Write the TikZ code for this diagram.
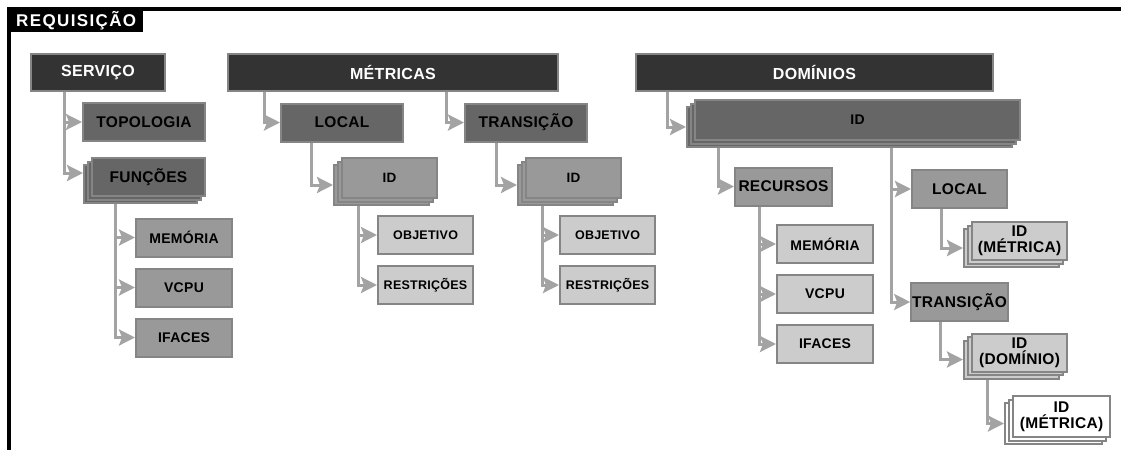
\documentclass[tikz,border=0pt]{standalone}
\usepackage{fontspec}
\newfontfamily\lblfont{Liberation Sans}[LetterSpace=2]
\newfontfamily\ttlfont{Liberation Sans}[LetterSpace=8]
\usetikzlibrary{arrows.meta, positioning, calc}
\definecolor{boxdark}{HTML}{333333}
\definecolor{boxmid}{HTML}{666666}
\definecolor{boxlight}{HTML}{999999}
\definecolor{boxpale}{HTML}{CCCCCC}
\definecolor{edgegray}{HTML}{858585}
\definecolor{linkgray}{HTML}{A3A3A3}

\newcommand\fsz[1]{\lblfont\bfseries\fontsize{#1}{#1}\selectfont}
% three stacked copies, the front one carries the label
\newcommand\stackbox[4]{%
  \node[#1] (#2c) at ($#3+(-8,7)$) {};
  \node[#1] (#2b) at ($#3+(-4,3.5)$) {};
  \node[#1] (#2) at #3 {#4};}

\begin{document}
\begin{tikzpicture}[
  x=1pt, y=-1pt,
  box/.style={
    draw=edgegray, line width=2pt, fill=#1, minimum height=38pt,
    inner sep=1pt, font=\fsz{15.5}, align=center
  },
  topbox/.style={box=boxdark, text=white, font=\fsz{16}, minimum height=37pt},
  leaf/.style={box=#1, minimum width=96pt, font=\fsz{14}},
  minor/.style={box=#1, minimum width=95pt, font=\fsz{12.5}},
  twoline/.style={box=#1, minimum width=95pt,
    font=\lblfont\bfseries\fontsize{15.5}{16}\selectfont},
  arr/.style={-{Stealth[length=16pt, width=16pt, inset=3pt]},
    line width=3pt, linkgray},
]
\useasboundingbox (0,0) rectangle (1121,450);

% Frame and title
\draw[line width=3.5pt] (9,450) -- (9,9) -- (1121,9);
\node[anchor=north west, fill=black, text=white, minimum width=134pt,
      minimum height=23pt, inner sep=0pt,
      font=\ttlfont\bfseries\fontsize{17}{17}\selectfont]
  (req) at (9,9) {REQUISIÇÃO};

% =============================================
% Top row
% =============================================
\node[topbox, minimum width=134pt] (serv) at (98,72.5) {SERVIÇO};
\node[topbox, minimum width=330pt] (metr) at (393,72.5) {MÉTRICAS};
\node[topbox, minimum width=357pt] (doms) at (814.5,72.5) {DOMÍNIOS};

% =============================================
% Serviço
% =============================================
\node[box=boxmid, minimum width=122pt] (topo) at (144,122) {TOPOLOGIA};
\stackbox{box=boxmid, minimum width=113pt}{func}{(148.5,177)}{FUNÇÕES}
\node[leaf=boxlight] (smem) at (184,237.5) {MEMÓRIA};
\node[leaf=boxlight] (svcpu) at (184,287.5) {VCPU};
\node[leaf=boxlight] (sifc) at (184,337.5) {IFACES};

% =============================================
% Métricas
% =============================================
\node[box=boxmid, minimum width=122pt] (mloc) at (342,122.5) {LOCAL};
\node[box=boxmid, minimum width=122pt] (mtra) at (526,122.5) {TRANSIÇÃO};
\stackbox{box=boxlight, minimum width=95pt, minimum height=40pt, font=\fsz{13.5}}{mlid}{(389.5,178)}{ID}
\stackbox{box=boxlight, minimum width=95pt, minimum height=40pt, font=\fsz{13.5}}{mtid}{(573.5,178)}{ID}
\node[minor=boxpale] (mlobj) at (425.5,235) {OBJETIVO};
\node[minor=boxpale] (mlres) at (425.5,285) {RESTRIÇÕES};
\node[minor=boxpale] (mtobj) at (607.5,235) {OBJETIVO};
\node[minor=boxpale] (mtres) at (607.5,285) {RESTRIÇÕES};

% =============================================
% Domínios
% =============================================
\stackbox{box=boxmid, minimum width=325pt, minimum height=40pt, font=\fsz{14}}{did}{(857.5,120)}{ID}
\node[box=boxlight, minimum width=97pt] (drec) at (783.5,186.5) {RECURSOS};
\node[box=boxlight, minimum width=95pt] (dloc) at (959.5,189) {LOCAL};
\node[box=boxlight, minimum width=95pt] (dtra) at (959.5,302) {TRANSIÇÃO};
\node[leaf=boxpale] (dmem) at (825,244) {MEMÓRIA};
\node[leaf=boxpale] (dvcpu) at (825,294) {VCPU};
\node[leaf=boxpale] (difc) at (825,344) {IFACES};
\stackbox{twoline=boxpale}{dlid}{(1019.5,241)}{ID\\(MÉTRICA)}
\stackbox{twoline=boxpale}{dtid}{(1019.5,352.5)}{ID\\(DOMÍNIO)}
\stackbox{twoline=white, minimum width=97pt, minimum height=41pt}{dmid}{(1061.5,416.5)}{ID\\(MÉTRICA)}

% =============================================
% Connectors
% =============================================
\draw[arr] ([xshift=34pt]serv.south west) |- (topo.west);
\draw[arr] ([xshift=34pt]serv.south west) |- ([yshift=11pt]funcc.west);
\foreach \n in {smem,svcpu,sifc}
  \draw[arr] ([xshift=32pt]funcc.south west) |- (\n.west);

\draw[arr] ([xshift=37pt]metr.south west) |- (mloc.west);
\draw[arr] ([xshift=219pt]metr.south west) |- (mtra.west);
\draw[arr] ([xshift=31pt]mloc.south west) |- (mlidc.west);
\draw[arr] ([xshift=32pt]mtra.south west) |- (mtidc.west);
\foreach \n in {mlobj,mlres}
  \draw[arr] ([xshift=25pt]mlidc.south west) |- (\n.west);
\foreach \n in {mtobj,mtres}
  \draw[arr] ([xshift=25pt]mtidc.south west) |- (\n.west);

\draw[arr] ([xshift=32pt]doms.south west) |- (didc.west);
\draw[arr] ([xshift=32pt]didc.south west) |- (drec.west);
\draw[arr] ([xshift=205pt]didc.south west) |- (dloc.west);
\draw[arr] ([xshift=205pt]didc.south west) |- (dtra.west);
\foreach \n in {dmem,dvcpu,difc}
  \draw[arr] ([xshift=25pt]drec.south west) |- (\n.west);
\draw[arr] ([xshift=30pt]dloc.south west) |- (dlidc.west);
\draw[arr] ([xshift=30pt]dtra.south west) |- (dtidc.west);
\draw[arr] ([xshift=24pt]dtidc.south west) |- (dmidc.west);

\end{tikzpicture}
\end{document}
